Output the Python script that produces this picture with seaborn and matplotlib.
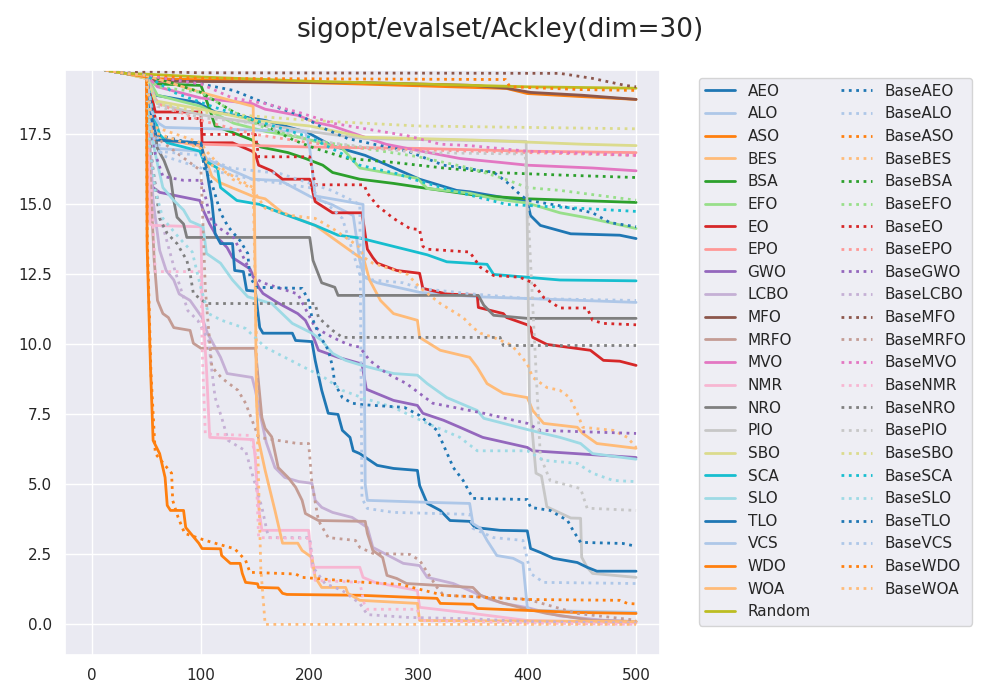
import matplotlib
matplotlib.use("Agg")
import matplotlib.pyplot as plt
import seaborn as sns

# shared initial design (first evaluations, identical for all runs)
start_x = [0, 12, 30]
start_y = [21.0, 19.8, 19.68]

# --- tuned methods (solid lines) ---
aeo_x = [50, 51, 58, 97, 113, 159, 198, 220, 251, 301, 335, 347, 400, 403, 412, 440, 485, 500]
aeo_y = [19.55, 19.5, 18.9, 18.64, 18.3, 18.0, 17.57, 17.1, 16.75, 15.9, 15.5, 15.45, 15.1, 14.6, 14.25, 13.95, 13.9, 13.78]
alo_x = [50, 56, 60, 100, 106, 147, 173, 202, 220, 240, 246, 250, 262, 301, 354, 400, 500]
alo_y = [19.55, 17.5, 17.0, 16.9, 16.6, 15.9, 15.85, 15.25, 15.0, 14.6, 13.0, 12.4, 12.2, 11.86, 11.7, 11.64, 11.5]
aso_x = [50, 100, 246, 381, 400, 450, 500]
aso_y = [19.5, 19.45, 19.3, 19.14, 18.96, 18.85, 18.75]
bes_x = [50, 52, 97, 101, 110, 116, 147, 159, 175, 205, 221, 239, 250, 255, 265, 277, 299, 301, 320, 347, 354, 363, 378, 400, 405, 415, 446, 451, 464, 500]
bes_y = [19.55, 17.45, 17.1, 17.0, 16.0, 15.8, 15.3, 15.2, 14.7, 14.25, 13.8, 13.3, 13.0, 12.3, 11.57, 11.1, 10.86, 10.25, 9.79, 9.54, 9.18, 8.6, 8.25, 8.1, 7.64, 7.18, 7.04, 6.82, 6.46, 6.29]
bsa_x = [50, 60, 100, 108, 113, 129, 147, 155, 180, 196, 212, 221, 246, 277, 308, 354, 400, 500]
bsa_y = [19.6, 19.3, 19.25, 18.4, 17.8, 17.57, 17.3, 17.05, 16.85, 16.64, 16.4, 16.14, 15.9, 15.75, 15.57, 15.32, 15.2, 15.07]
efo_x = [50, 60, 100, 130, 160, 190, 230, 246, 299, 308, 347, 369, 400, 430, 458, 500]
efo_y = [19.6, 18.9, 18.5, 17.9, 17.6, 17.4, 17.0, 16.3, 15.93, 15.57, 15.4, 15.2, 15.05, 14.7, 14.5, 14.14]
eo_x = [50, 58, 100, 101, 129, 147, 150, 153, 165, 175, 200, 205, 221, 248, 253, 258, 262, 280, 301, 304, 326, 354, 355, 378, 381, 400, 403, 405, 418, 458, 470, 485, 500]
eo_y = [19.6, 18.3, 18.3, 17.2, 17.2, 16.9, 16.8, 16.4, 16.2, 15.9, 15.9, 15.1, 14.7, 14.7, 13.4, 13.1, 12.9, 12.64, 12.54, 12.0, 11.8, 11.75, 11.32, 11.1, 10.96, 10.7, 10.6, 10.25, 10.0, 9.79, 9.43, 9.4, 9.25]
epo_x = [50, 54, 58, 100, 200, 300, 400, 500]
epo_y = [19.6, 18.0, 17.3, 17.15, 17.05, 17.0, 16.9, 16.85]
gwo_x = [50, 53, 56, 62, 99, 102, 108, 115, 124, 129, 145, 153, 157, 170, 189, 196, 202, 208, 226, 248, 252, 277, 299, 304, 323, 338, 359, 400, 405, 500]
gwo_y = [19.6, 15.96, 15.6, 15.43, 15.14, 14.8, 14.3, 13.82, 13.46, 13.1, 12.7, 12.04, 11.82, 11.5, 11.1, 10.86, 10.4, 9.79, 9.54, 9.3, 8.4, 8.0, 7.82, 7.54, 7.29, 7.04, 6.68, 6.32, 6.2, 5.96]
lcbo_x = [50, 56, 62, 68, 75, 80, 90, 101, 106, 118, 124, 147, 150, 155, 160, 168, 177, 190, 202, 205, 211, 221, 239, 253, 258, 286, 301, 308, 332, 347, 363, 378, 400, 430, 470, 500]
lcbo_y = [19.6, 15.14, 13.36, 12.64, 12.3, 11.8, 11.57, 10.96, 10.4, 9.54, 8.96, 8.82, 8.36, 7.4, 6.5, 5.6, 5.25, 5.1, 5.04, 4.43, 4.18, 4.0, 3.82, 3.46, 2.75, 2.18, 2.1, 1.68, 1.46, 1.21, 0.93, 0.75, 0.6, 0.3, 0.15, 0.1]
mfo_x = [50, 60, 250, 350, 381, 403, 450, 500]
mfo_y = [19.6, 19.4, 19.35, 19.25, 19.15, 19.0, 18.9, 18.75]
mrfo_x = [50, 53, 57, 60, 65, 70, 75, 90, 93, 100, 150, 153, 156, 159, 165, 171, 180, 187, 193, 196, 208, 251, 253, 258, 267, 271, 280, 289, 350, 357, 375, 393, 418, 460, 500]
mrfo_y = [19.6, 16.3, 13.0, 11.57, 11.1, 10.96, 10.6, 10.5, 10.04, 9.86, 9.86, 8.6, 7.39, 7.0, 6.7, 5.6, 5.25, 4.9, 4.43, 3.96, 3.71, 3.68, 3.25, 2.64, 2.39, 1.75, 1.64, 1.46, 1.32, 1.04, 0.79, 0.61, 0.39, 0.14, 0.1]
mvo_x = [50, 60, 100, 147, 159, 189, 205, 221, 246, 270, 308, 338, 375, 400, 460, 500]
mvo_y = [19.6, 19.2, 18.8, 18.6, 18.4, 18.18, 17.93, 17.8, 17.46, 17.15, 16.86, 16.64, 16.5, 16.4, 16.3, 16.2]
nmr_x = [50, 53, 56, 100, 101, 105, 108, 148, 150, 153, 156, 199, 202, 246, 249, 260, 299, 301, 350, 400, 500]
nmr_y = [19.6, 14.3, 14.25, 14.2, 11.57, 9.18, 6.68, 6.6, 5.9, 4.18, 3.36, 3.36, 2.04, 2.04, 1.68, 1.5, 1.21, 0.61, 0.39, 0.14, 0.05]
nro_x = [50, 60, 66, 72, 75, 78, 84, 87, 200, 203, 211, 223, 226, 355, 360, 369, 400, 500]
nro_y = [19.6, 17.0, 16.57, 15.96, 15.14, 14.54, 14.3, 13.82, 13.82, 13.0, 12.2, 12.04, 11.75, 11.75, 11.4, 11.04, 10.93, 10.93]
pio_x = [50, 60, 100, 150, 200, 250, 399, 402, 408, 413, 418, 440, 449, 450, 455, 460, 500]
pio_y = [19.6, 18.6, 18.2, 17.9, 17.6, 17.35, 17.25, 8.0, 5.4, 5.3, 4.2, 3.8, 3.79, 2.4, 2.04, 1.82, 1.68]
sbo_x = [50, 58, 100, 150, 200, 250, 350, 450, 500]
sbo_y = [19.5, 18.7, 18.4, 18.0, 17.8, 17.4, 17.3, 17.15, 17.1]
sca_x = [50, 56, 62, 69, 99, 102, 115, 118, 133, 154, 173, 205, 226, 246, 277, 308, 326, 363, 369, 430, 500]
sca_y = [19.6, 18.25, 17.5, 17.2, 16.9, 16.6, 16.3, 15.6, 15.14, 15.0, 14.7, 14.25, 13.9, 13.8, 13.5, 13.2, 12.95, 12.86, 12.5, 12.3, 12.27]
slo_x = [50, 53, 60, 65, 75, 84, 90, 102, 105, 118, 129, 143, 165, 184, 202, 211, 221, 233, 248, 277, 299, 308, 326, 354, 360, 378, 403, 430, 449, 460, 500]
slo_y = [19.6, 17.75, 16.45, 15.6, 15.14, 14.8, 14.4, 14.2, 13.25, 12.9, 12.3, 11.7, 11.46, 10.75, 10.4, 10.14, 9.68, 9.43, 9.25, 8.96, 8.9, 8.6, 8.1, 7.64, 7.36, 7.18, 6.93, 6.68, 6.46, 6.1, 5.9]
tlo_x = [50, 55, 60, 100, 101, 105, 110, 113, 118, 129, 131, 139, 142, 150, 154, 157, 184, 187, 202, 205, 211, 217, 226, 230, 237, 240, 246, 262, 277, 299, 301, 308, 320, 329, 347, 352, 375, 400, 403, 412, 424, 446, 455, 464, 500]
tlo_y = [19.6, 18.0, 17.3, 17.2, 17.0, 16.3, 15.1, 13.96, 13.6, 13.6, 12.64, 12.6, 11.93, 11.9, 10.6, 10.4, 10.4, 10.14, 10.1, 9.43, 8.36, 7.54, 7.5, 6.93, 6.68, 6.2, 6.1, 5.68, 5.57, 5.5, 4.96, 4.32, 4.07, 3.71, 3.68, 3.46, 3.36, 3.34, 2.71, 2.57, 2.36, 2.21, 2.04, 1.9, 1.9]
vcs_x = [50, 55, 61, 67, 196, 200, 205, 220, 249, 251, 253, 308, 347, 350, 357, 363, 372, 387, 396, 400, 403, 500]
vcs_y = [19.55, 18.3, 17.9, 17.75, 17.6, 17.0, 15.3, 15.2, 15.0, 5.0, 4.43, 4.36, 4.32, 3.6, 3.43, 3.0, 2.46, 2.36, 2.18, 0.61, 0.5, 0.43]
wdo_x = [50, 50.5, 53.5, 56, 62, 67, 69, 72, 84, 86, 92, 98, 101, 118, 119, 127, 136, 138, 141, 152, 153, 171, 175, 179, 246, 317, 320, 350, 354, 400, 442, 500]
wdo_y = [19.55, 13.5, 9.3, 6.57, 6.1, 5.25, 4.25, 4.07, 4.07, 3.46, 3.18, 2.9, 2.71, 2.7, 2.46, 2.18, 2.18, 1.82, 1.5, 1.45, 1.32, 1.3, 1.11, 1.07, 1.04, 0.93, 0.75, 0.72, 0.57, 0.5, 0.43, 0.39]
woa_x = [50, 100, 148, 150, 151, 153, 159, 168, 175, 189, 193, 202, 205, 211, 233, 235, 246, 299, 301, 500]
woa_y = [19.6, 19.0, 18.5, 12.0, 8.0, 6.57, 5.5, 4.07, 2.9, 2.9, 2.64, 2.39, 1.68, 1.32, 1.32, 1.11, 0.86, 0.75, 0.14, 0.1]
random_x = [50, 100, 200, 300, 400, 500]
random_y = [19.65, 19.55, 19.4, 19.3, 19.2, 19.15]

# --- untuned baselines (dotted lines) ---
base_aeo_x = [50, 100, 130, 160, 190, 214, 235, 260, 290, 323, 369, 381, 392, 400, 430, 460, 476, 500]
base_aeo_y = [19.6, 19.3, 19.07, 18.6, 18.2, 17.7, 17.35, 17.14, 16.9, 16.4, 16.15, 15.8, 15.4, 15.15, 14.95, 14.7, 14.35, 14.2]
base_alo_x = [50, 56, 64, 100, 147, 200, 230, 246, 258, 286, 301, 350, 400, 500]
base_alo_y = [19.6, 18.0, 16.75, 16.3, 15.9, 15.6, 14.5, 12.5, 12.3, 12.2, 12.0, 11.8, 11.64, 11.57]
base_aso_x = [50, 100, 380, 384, 450, 500]
base_aso_y = [19.6, 19.5, 19.46, 19.2, 19.1, 19.07]
base_bes_x = [50, 55, 100, 105, 129, 147, 159, 184, 205, 221, 245, 250, 258, 290, 301, 320, 341, 350, 357, 369, 384, 390, 400, 405, 418, 430, 439, 446, 451, 479, 492, 500]
base_bes_y = [19.6, 17.8, 17.2, 16.9, 15.9, 15.57, 14.86, 14.6, 14.5, 14.14, 13.5, 13.1, 12.9, 12.5, 12.04, 11.46, 10.96, 10.6, 10.4, 10.25, 10.0, 9.79, 9.3, 8.82, 8.46, 8.36, 8.1, 7.54, 7.04, 6.93, 6.68, 6.32]
base_bsa_x = [50, 60, 100, 130, 160, 185, 205, 235, 277, 323, 369, 430, 500]
base_bsa_y = [19.6, 19.5, 19.0, 18.3, 17.8, 17.3, 17.0, 16.64, 16.5, 16.3, 16.14, 16.05, 15.96]
base_efo_x = [50, 60, 100, 130, 160, 200, 250, 300, 347, 380, 400, 430, 460, 500]
base_efo_y = [19.6, 19.2, 19.0, 18.3, 17.7, 17.3, 17.0, 16.7, 16.3, 15.9, 15.6, 15.5, 15.35, 15.15]
base_eo_x = [50, 58, 100, 101, 150, 153, 200, 205, 250, 253, 262, 277, 292, 301, 304, 308, 347, 357, 369, 393, 405, 415, 430, 455, 460, 470, 500]
base_eo_y = [19.6, 18.07, 18.07, 17.5, 17.5, 16.7, 16.7, 15.7, 15.7, 15.4, 14.96, 14.5, 14.14, 14.1, 13.5, 13.4, 13.3, 12.75, 12.46, 12.4, 12.2, 11.68, 11.3, 11.3, 10.86, 10.75, 10.7]
base_epo_x = [50, 60, 100, 150, 200, 250, 350, 500]
base_epo_y = [19.6, 18.6, 18.0, 17.5, 17.2, 17.0, 16.9, 16.75]
base_gwo_x = [50, 58, 65, 84, 100, 105, 108, 115, 130, 148, 157, 189, 205, 221, 235, 246, 255, 271, 289, 301, 313, 360, 400, 412, 500]
base_gwo_y = [19.6, 16.8, 16.0, 15.86, 15.86, 15.14, 14.54, 14.2, 13.82, 12.4, 12.2, 11.8, 10.6, 10.25, 10.0, 9.9, 9.43, 8.96, 8.6, 8.25, 7.9, 7.54, 7.18, 6.93, 6.82]
base_lcbo_x = [50, 55, 63, 76, 83, 88, 97, 107, 110, 113, 119, 125, 141, 156, 162, 200, 203, 214, 230, 246, 253, 290, 350, 400, 500]
base_lcbo_y = [19.6, 16.5, 14.5, 12.64, 11.8, 11.2, 10.86, 10.14, 9.07, 8.1, 7.39, 6.57, 6.2, 4.18, 3.1, 3.1, 2.04, 1.46, 1.21, 0.75, 0.35, 0.25, 0.2, 0.1, 0.05]
base_mfo_x = [50, 100, 430, 460, 490, 500]
base_mfo_y = [19.75, 19.7, 19.68, 19.5, 19.25, 19.2]
base_mrfo_x = [50, 55, 100, 104, 106, 110, 119, 134, 141, 153, 189, 199, 202, 208, 217, 242, 246, 258, 292, 301, 317, 323, 400, 446, 500]
base_mrfo_y = [19.6, 17.5, 16.2, 12.0, 11.0, 9.2, 8.8, 8.36, 7.9, 6.68, 6.46, 6.46, 5.04, 3.71, 3.1, 3.0, 2.75, 2.54, 2.5, 2.29, 1.32, 1.04, 0.9, 0.39, 0.15]
base_mvo_x = [50, 100, 129, 159, 189, 221, 251, 290, 320, 347, 400, 500]
base_mvo_y = [19.6, 19.3, 18.8, 18.6, 18.3, 17.9, 17.7, 17.45, 17.15, 17.1, 16.9, 16.75]
base_nmr_x = [50, 55, 58, 100, 101, 104, 145, 150, 153, 200, 205, 246, 250, 253, 299, 301, 400, 500]
base_nmr_y = [19.6, 15.0, 12.6, 12.6, 9.9, 6.8, 6.75, 6.1, 3.1, 3.07, 1.57, 1.5, 0.75, 0.54, 0.54, 0.14, 0.05, 0.0]
base_nro_x = [50, 55, 62, 69, 78, 87, 90, 93, 105, 205, 208, 221, 230, 375, 378, 500]
base_nro_y = [19.6, 16.5, 14.5, 13.96, 13.6, 13.0, 12.54, 11.82, 11.46, 11.46, 10.96, 10.5, 10.25, 10.25, 9.96, 9.96]
base_pio_x = [50, 60, 100, 150, 200, 250, 300, 398, 412, 421, 449, 455, 500]
base_pio_y = [19.6, 18.5, 18.1, 17.9, 17.3, 17.05, 16.85, 16.8, 6.0, 5.14, 4.85, 4.15, 4.07]
base_sbo_x = [50, 60, 100, 200, 300, 500]
base_sbo_y = [19.5, 18.6, 18.3, 18.0, 17.8, 17.7]
base_sca_x = [50, 75, 110, 150, 200, 230, 246, 280, 295, 330, 381, 430, 500]
base_sca_y = [19.6, 19.0, 18.5, 18.0, 17.4, 16.8, 16.4, 16.1, 15.9, 15.5, 15.0, 14.9, 14.75]
base_slo_x = [50, 53, 58, 65, 80, 92, 100, 107, 119, 141, 159, 177, 189, 214, 230, 248, 277, 308, 338, 354, 400, 415, 446, 460, 479, 500]
base_slo_y = [19.6, 17.0, 15.5, 14.5, 13.8, 13.3, 12.0, 11.1, 10.86, 10.57, 9.9, 9.54, 9.3, 8.8, 8.36, 8.1, 7.75, 7.18, 6.68, 6.2, 6.2, 5.86, 5.75, 5.4, 5.14, 5.1]
base_tlo_x = [50, 58, 100, 103, 110, 118, 125, 136, 143, 145, 151, 193, 199, 202, 208, 217, 221, 223, 230, 239, 248, 287, 301, 317, 323, 332, 341, 350, 400, 403, 421, 437, 442, 449, 488, 500]
base_tlo_y = [19.6, 17.5, 17.1, 16.3, 15.75, 14.7, 14.2, 13.7, 13.25, 12.4, 12.04, 12.0, 11.57, 10.96, 10.4, 9.8, 9.2, 8.6, 8.1, 7.9, 7.85, 7.75, 7.46, 6.93, 6.4, 5.6, 5.14, 4.5, 4.46, 4.18, 4.07, 3.71, 3.36, 2.93, 2.89, 2.79]
base_vcs_x = [50, 56, 60, 100, 127, 173, 220, 246, 248, 253, 277, 347, 350, 369, 396, 403, 415, 500]
base_vcs_y = [19.6, 17.5, 16.9, 16.75, 16.3, 16.1, 15.5, 15.0, 4.5, 4.14, 4.0, 3.93, 3.43, 3.1, 3.0, 1.82, 1.5, 1.46]
base_wdo_x = [50, 50.5, 54, 58, 73, 74, 79, 85, 104, 131, 141, 145, 187, 193, 251, 283, 323, 400, 485, 492, 500]
base_wdo_y = [19.55, 14.0, 9.0, 6.1, 5.4, 4.43, 3.82, 3.25, 3.0, 2.7, 2.29, 1.86, 1.8, 1.68, 1.5, 1.43, 1.04, 0.89, 0.86, 0.75, 0.73]
base_woa_x = [50, 55, 100, 105, 130, 148, 151, 152, 155, 159, 500]
base_woa_y = [19.6, 17.6, 17.0, 16.5, 16.0, 15.6, 10.0, 6.57, 2.0, 0.0, 0.0]

solid = [
    ("AEO", aeo_x, aeo_y), ("ALO", alo_x, alo_y), ("ASO", aso_x, aso_y),
    ("BES", bes_x, bes_y), ("BSA", bsa_x, bsa_y), ("EFO", efo_x, efo_y),
    ("EO", eo_x, eo_y), ("EPO", epo_x, epo_y), ("GWO", gwo_x, gwo_y),
    ("LCBO", lcbo_x, lcbo_y), ("MFO", mfo_x, mfo_y), ("MRFO", mrfo_x, mrfo_y),
    ("MVO", mvo_x, mvo_y), ("NMR", nmr_x, nmr_y), ("NRO", nro_x, nro_y),
    ("PIO", pio_x, pio_y), ("SBO", sbo_x, sbo_y), ("SCA", sca_x, sca_y),
    ("SLO", slo_x, slo_y), ("TLO", tlo_x, tlo_y), ("VCS", vcs_x, vcs_y),
    ("WDO", wdo_x, wdo_y), ("WOA", woa_x, woa_y), ("Random", random_x, random_y),
]
base = [
    ("AEO", base_aeo_x, base_aeo_y), ("ALO", base_alo_x, base_alo_y),
    ("ASO", base_aso_x, base_aso_y), ("BES", base_bes_x, base_bes_y),
    ("BSA", base_bsa_x, base_bsa_y), ("EFO", base_efo_x, base_efo_y),
    ("EO", base_eo_x, base_eo_y), ("EPO", base_epo_x, base_epo_y),
    ("GWO", base_gwo_x, base_gwo_y), ("LCBO", base_lcbo_x, base_lcbo_y),
    ("MFO", base_mfo_x, base_mfo_y), ("MRFO", base_mrfo_x, base_mrfo_y),
    ("MVO", base_mvo_x, base_mvo_y), ("NMR", base_nmr_x, base_nmr_y),
    ("NRO", base_nro_x, base_nro_y), ("PIO", base_pio_x, base_pio_y),
    ("SBO", base_sbo_x, base_sbo_y), ("SCA", base_sca_x, base_sca_y),
    ("SLO", base_slo_x, base_slo_y), ("TLO", base_tlo_x, base_tlo_y),
    ("VCS", base_vcs_x, base_vcs_y), ("WDO", base_wdo_x, base_wdo_y),
    ("WOA", base_woa_x, base_woa_y),
]

# colour = tab20 slot of the method in alphabetical order (Random included)
tab20 = sns.color_palette("tab20", 20)
order = sorted(name for name, _, _ in solid)
colors = {name: tab20[i % 20] for i, name in enumerate(order)}

sns.set_theme(style="darkgrid")
fig, ax = plt.subplots(figsize=(10, 7), dpi=100)
fig.subplots_adjust(left=0.065, right=0.66, top=0.9, bottom=0.064)

for name, xs, ys in solid:
    sns.lineplot(x=start_x + xs, y=start_y + ys, ax=ax, color=colors[name],
                 linewidth=2, label=name, estimator=None, sort=False)
for name, xs, ys in base:
    sns.lineplot(x=start_x + xs, y=start_y + ys, ax=ax, color=colors[name],
                 linewidth=2, linestyle=":", label="Base" + name,
                 estimator=None, sort=False)

ax.set_xlim(-25, 522)
ax.set_ylim(-1.1, 19.8)
ax.set_yticks([0, 2.5, 5, 7.5, 10, 12.5, 15, 17.5])
ax.set_xticks([0, 100, 200, 300, 400, 500])
ax.set_xlabel("")
ax.set_ylabel("")

handles, labels = ax.get_legend_handles_labels()
ax.legend(handles, labels, ncol=2, loc="upper left",
          bbox_to_anchor=(1.065, 0.987), fontsize=11, borderaxespad=0)

fig.suptitle("sigopt/evalset/Ackley(dim=30)", fontsize=19, y=0.976)
fig.savefig("out.png", dpi=100)
